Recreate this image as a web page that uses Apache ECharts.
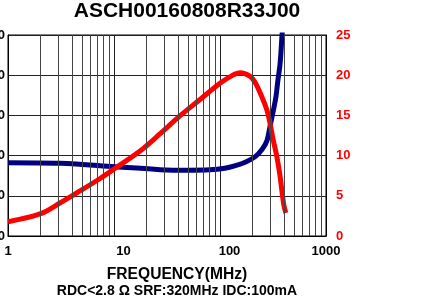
<!DOCTYPE html>
<html>
<head>
<meta charset="utf-8">
<script src="https://cdn.jsdelivr.net/npm/echarts@6/dist/echarts.min.js"></script>
<style>html,body{margin:0;padding:0;background:#fff}#c{width:430px;height:304px}</style>
</head>
<body>
<div id="c"></div>
<script>
// Frequency (MHz) and inductance (nH) for the blue curve
const indFreq = [1, 3.09, 10.2, 27.1, 50, 80, 111, 140, 175, 215, 250, 277, 295, 315, 337, 352, 367, 376, 385, 420];
const indVal  = [365, 362, 345, 330, 327, 329, 337, 350, 368, 395, 432, 473, 540, 612, 692, 776, 846, 915, 1000, 1250];
// Frequency (MHz) and Q for the red curve
const qFreq = [1, 2.0, 3.09, 4.78, 7.39, 10.2, 17.6, 27.1, 41.8, 64.8, 100, 130, 154.6, 191, 213.5, 248, 277, 295, 315, 344, 367, 400, 418];
const qVal  = [1.78, 2.74, 4.1, 5.6, 7.15, 8.4, 10.57, 12.69, 14.93, 16.98, 19.0, 19.95, 20.3, 19.9, 19.15, 17.32, 15.67, 14.18, 12.19, 9.86, 7.59, 3.86, 2.86];
// Minor vertical gridlines
const minorFreq = [2,3,4,5,6,7,8,9,20,30,40,50,60,70,80,90,200,300,400,500,600,700,800,900];
const xTickLabels = ['1', '10', '100', '1000'];
const titleText = 'ASCH00160808R33J00';
const xName = 'FREQUENCY(MHz)';
const noteText = 'RDC<2.8 Ω SRF:320MHz IDC:100mA';

const FONT = 'Liberation Sans, Arial, sans-serif';
const chart = echarts.init(document.getElementById('c'), null, {renderer: 'canvas'});
chart.setOption({
  animation: false,
  backgroundColor: '#fff',
  title: [
    {text: titleText, left: 187, top: 1, padding: 0, textAlign: 'center',
     textStyle: {fontFamily: FONT, fontSize: 21, fontWeight: 'bold', color: '#000'}},
    {text: xName, left: 177, top: 267, padding: 0, textAlign: 'center',
     textStyle: {fontFamily: FONT, fontSize: 15.6, fontWeight: 'bold', color: '#000'}},
    {text: noteText, left: 177, top: 284, padding: 0, textAlign: 'center',
     textStyle: {fontFamily: FONT, fontSize: 14, fontWeight: 'bold', color: '#000'}}
  ],
  grid: {left: 8, right: 104, top: 35, bottom: 68, containLabel: false, outerBoundsMode: 'none',
         show: true, borderColor: '#000', borderWidth: 1, backgroundColor: 'transparent'},
  xAxis: {
    type: 'log', logBase: 10, min: 1, max: 1000,
    axisLine: {show: true, lineStyle: {color: '#000', width: 1}},
    axisTick: {show: false},
    splitLine: {show: true, lineStyle: {color: '#222', width: 1}},
    minorTick: {show: false}, minorSplitLine: {show: false},
    axisLabel: {
      margin: 9, hideOverlap: false,
      fontFamily: FONT, fontSize: 13, fontWeight: 'bold', color: '#000',
      formatter: function (v) {
        const s = xTickLabels.find(t => Math.abs(Number(t) - v) < 1e-6) || String(v);
        if (s === '10' || s === '100') return '{s|' + s + '}';
        return s;
      },
      rich: {s: {fontFamily: FONT, fontSize: 13, fontWeight: 'bold', color: '#000', padding: [0, 0, 0, 19]}}
    }
  },
  yAxis: [
    {type: 'value', min: 0, max: 1000, interval: 200, position: 'left',
     axisLine: {show: true, lineStyle: {color: '#000'}}, axisTick: {show: false},
     splitLine: {show: true, lineStyle: {color: '#222', width: 1}},
     axisLabel: {margin: 3, fontFamily: FONT, fontSize: 13, fontWeight: 'bold', color: '#000',
                 formatter: v => String(v)}},
    {type: 'value', min: 0, max: 25, interval: 5, position: 'right',
     axisLine: {show: true, lineStyle: {color: '#000'}}, axisTick: {show: false},
     splitLine: {show: false},
     axisLabel: {margin: 10, fontFamily: FONT, fontSize: 13, fontWeight: 'bold', color: '#ff0000'}}
  ],
  series: [
    {type: 'line', name: 'grid', data: [[1, 0]], showSymbol: false, symbol: 'none',
     lineStyle: {opacity: 0}, z: 1, silent: true,
     markLine: {silent: true, symbol: ['none', 'none'], animation: false,
       label: {show: false}, lineStyle: {color: '#444', width: 1, type: 'solid'},
       emphasis: {disabled: true},
       data: minorFreq.map(f => ({xAxis: f}))}},
    {type: 'line', name: 'L', yAxisIndex: 0, data: indFreq.map((f, i) => [f, indVal[i]]),
     showSymbol: false, symbol: 'none', smooth: 0.35, clip: true, z: 3,
     lineStyle: {color: '#000080', width: 5}},
    {type: 'line', name: 'Q', yAxisIndex: 1, data: qFreq.map((f, i) => [f, qVal[i]]),
     showSymbol: false, symbol: 'none', smooth: 0.35, clip: true, z: 4,
     lineStyle: {color: '#ff0000', width: 5}}
  ]
});
</script>
</body>
</html>
